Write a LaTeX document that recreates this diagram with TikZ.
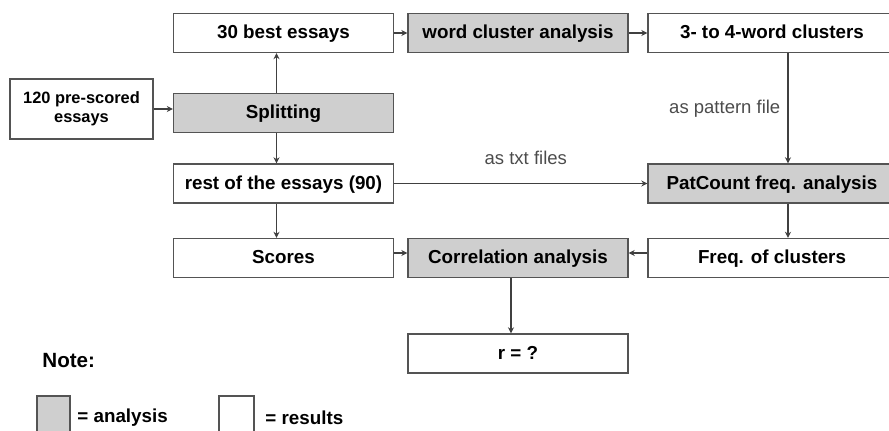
\documentclass[tikz,border=0pt]{standalone}
\usepackage{fontspec}
\setmainfont{Liberation Sans}
\usetikzlibrary{arrows.meta,positioning}
\definecolor{anagray}{gray}{0.81}
\definecolor{edgegray}{gray}{0.33}
\definecolor{labgray}{gray}{0.3}

\begin{document}
\begin{tikzpicture}[x=0.5pt,y=-0.5pt,>={Stealth[length=3pt,width=3pt]},
  font=\fontsize{9.4}{11}\selectfont\bfseries,
  res/.style={draw=edgegray,line width=0.7pt,fill=white,minimum width=110pt,minimum height=19.5pt,
    inner sep=0pt,text height=7pt,text depth=1pt},
  ana/.style={res,fill=anagray},
  lab/.style={font=\fontsize{9.25}{11}\selectfont,text=labgray},
  conn/.style={draw=black!75,line width=0.7pt,->}]
  \useasboundingbox (0,0) rectangle (889,431);
  % top row
  \node[res] (best) at (283.5,33) {30 best essays};
  \node[ana] (wca) at (518,33) {word cluster analysis};
  \node[res,minimum width=124pt] (clu) at (772,33) {3- to 4-word clusters};
  % splitting
  \node[res,minimum width=71.5pt,minimum height=30pt,align=center,text height=,text depth=,
    font=\fontsize{8.2}{9.5}\selectfont\bfseries] (pre) at (81.5,109) {120 pre-scored\\essays};
  \node[ana] (spl) at (283.5,113) {Splitting};
  \node[res] (rest) at (283.5,183.5) {rest of the essays (90)};
  \node[ana,minimum width=124pt] (pat) at (772,183.5) {PatCount freq. analysis};
  % bottom rows
  \node[res] (sco) at (283.5,258) {Scores};
  \node[ana] (cor) at (518,258) {Correlation analysis};
  \node[res,minimum width=124pt] (frq) at (772,258) {Freq. of clusters};
  \node[res] (r) at (518,353.5) {r = ?};
  % legend
  \node[anchor=west,inner sep=0pt,font=\fontsize{10.3}{12}\selectfont\bfseries] (note) at (42,361) {Note:};
  \node[ana,minimum width=16.5pt,minimum height=21pt] (keyana) at (53.5,417) {};
  \node[anchor=west,inner sep=0pt] (keyanatxt) at (77,418) {= analysis};
  \node[res,minimum width=17.5pt,minimum height=21pt] (keyres) at (236.5,417) {};
  \node[anchor=west,inner sep=0pt] (keyrestxt) at (265,418) {= results};
  % connectors
  \draw[conn] (pre.east) -- (pre.east -| spl.west);
  \draw[conn] ([xshift=-3.5pt]spl.north) -- ([xshift=-3.5pt]best.south);
  \draw[conn] ([xshift=-3.5pt]spl.south) -- ([xshift=-3.5pt]rest.north);
  \draw[conn] ([xshift=-3.5pt]rest.south) -- ([xshift=-3.5pt]sco.north);
  \draw[conn] (best.east) -- (wca.west);
  \draw[conn] (wca.east) -- (clu.west);
  \draw[conn] ([xshift=8pt]clu.south) -- ([xshift=8pt]pat.north)
    node[midway,left,lab,inner sep=3.5pt] (patlab) {as pattern file};
  \draw[conn] (rest.east) -- (pat.west)
    node[pos=0.52,lab,yshift=12.75pt] (txtlab) {as txt files};
  \draw[conn] ([xshift=8pt]pat.south) -- ([xshift=8pt]frq.north);
  \draw[conn] ([yshift=2.5pt]sco.east) -- ([yshift=2.5pt]cor.west);
  \draw[conn] ([yshift=2.5pt]frq.west) -- ([yshift=2.5pt]cor.east);
  \draw[conn] ([xshift=-3.5pt]cor.south) -- ([xshift=-3.5pt]r.north);
\end{tikzpicture}
\end{document}
